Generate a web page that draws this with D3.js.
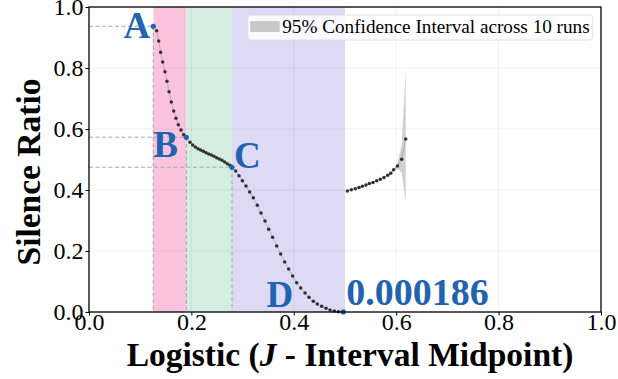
<!DOCTYPE html>
<html>
<head>
<meta charset="utf-8">
<script src="https://cdn.jsdelivr.net/npm/d3@7"></script>
<style>
  body { margin: 0; background: white; }
  svg, svg text { font-family: "Liberation Serif", "Times New Roman", serif !important; }
</style>
</head>
<body>
<div id="wrapper"></div>
<script>
// Data

// main curve, A -> B -> C -> D
const xMain = [0.1256,0.1322,0.1361,0.1400,0.1439,0.1484,0.1523,0.1563,0.1607,0.1654,0.1699,0.1744,0.1797,0.1850,0.1901,
  0.1973,0.2025,0.2076,0.2129,0.2181,0.2233,0.2285,0.2338,0.2389,0.2441,0.2494,0.2545,0.2598,0.2650,0.2701,0.2754,0.2793,
  0.2865,0.2930,0.2995,0.3066,0.3138,0.3209,0.3287,0.3359,0.3438,0.3509,0.3587,0.3666,0.3744,0.3822,0.3900,0.3978,0.4057,
  0.4135,0.4219,0.4297,0.4381,0.4459,0.4544,0.4629,0.4707,0.4791,0.4870,0.4967]
const yMain = [0.9367,0.9223,0.8885,0.8514,0.8197,0.7879,0.7564,0.7223,0.6885,0.6590,0.6351,0.6141,0.5967,0.5813,0.5728,
  0.5564,0.5475,0.5410,0.5354,0.5311,0.5269,0.5223,0.5180,0.5148,0.5105,0.5059,0.5016,0.4974,0.4918,0.4862,0.4810,0.4744,
  0.4623,0.4470,0.4305,0.4131,0.3934,0.3748,0.3498,0.3246,0.2984,0.2711,0.2448,0.2164,0.1902,0.1639,0.1410,0.1180,0.0962,
  0.0787,0.0623,0.0481,0.0350,0.0262,0.0186,0.0120,0.0066,0.0033,0.0010,0.000186]

// second piece after the gap, with its confidence band
const xTail = [0.5046,0.5124,0.5202,0.5273,0.5339,0.5410,0.5475,0.5547,0.5619,0.5690,0.5762,0.5834,0.5893,0.5950,0.6025,0.6107,0.6186]
const yTail = [0.397,0.401,0.404,0.408,0.412,0.416,0.421,0.425,0.430,0.435,0.441,0.448,0.455,0.466,0.479,0.501,0.567]
const ciLow = [0.396,0.400,0.403,0.407,0.411,0.415,0.420,0.424,0.429,0.434,0.440,0.446,0.452,0.461,0.470,0.458,0.362]
const ciHigh = [0.398,0.402,0.405,0.409,0.413,0.417,0.422,0.426,0.431,0.436,0.442,0.450,0.458,0.471,0.488,0.548,0.795]

// key points on the main curve
const keyNames = ["A", "B", "C", "D"]
const keyIndex = [0, 14, 31, 59]
const bandColors = ["#fcc3de", "#d4efe1", "#dedaf5"]
const bandEnd = 0.5

const xTicks = [0, 0.2, 0.4, 0.6, 0.8, 1.0]
const yTicks = [0, 0.2, 0.4, 0.6, 0.8, 1.0]

const minLabel = "0.000186"
const legendLabel = "95% Confidence Interval across 10 runs"

const blue = "#1f63b1"
const dotColor = "#303030"
const serif = '"Liberation Serif", "Times New Roman", serif'

let dimensions = {
  width: 618,
  height: 379,
  margin: { top: 7, right: 17, bottom: 67, left: 89 },
}
dimensions.boundedWidth = dimensions.width - dimensions.margin.left - dimensions.margin.right
dimensions.boundedHeight = dimensions.height - dimensions.margin.top - dimensions.margin.bottom

const wrapper = d3.select("#wrapper")
  .append("svg")
  .attr("width", dimensions.width)
  .attr("height", dimensions.height)

const bounds = wrapper.append("g")
  .attr("transform", `translate(${dimensions.margin.left},${dimensions.margin.top})`)

const xScale = d3.scaleLinear().domain([0, 1]).range([0, dimensions.boundedWidth])
const yScale = d3.scaleLinear().domain([0, 1]).range([dimensions.boundedHeight, 0])

const mainData = xMain.map((x, i) => ({ x, y: yMain[i] }))
const tailData = xTail.map((x, i) => ({ x, y: yTail[i], lo: ciLow[i], hi: ciHigh[i] }))
const keyPoints = keyIndex.map((k, i) => ({ name: keyNames[i], ...mainData[k] }))

// shaded regions between key points
const bandEdges = [keyPoints[0].x, keyPoints[1].x, keyPoints[2].x, bandEnd]
bounds.append("g")
  .selectAll("rect")
  .data(bandColors)
  .join("rect")
    .attr("x", (d, i) => xScale(bandEdges[i]))
    .attr("width", (d, i) => xScale(bandEdges[i + 1]) - xScale(bandEdges[i]))
    .attr("y", 0)
    .attr("height", dimensions.boundedHeight)
    .attr("fill", d => d)

// grid
const grid = bounds.append("g")
  .attr("stroke", "#000")
  .attr("stroke-opacity", 0.08)
  .attr("stroke-width", 0.8)
grid.selectAll(".gx")
  .data(xTicks.slice(1, -1))
  .join("line")
    .attr("x1", d => xScale(d)).attr("x2", d => xScale(d))
    .attr("y1", 0).attr("y2", dimensions.boundedHeight)
grid.selectAll(".gy")
  .data(yTicks.slice(1, -1))
  .join("line")
    .attr("y1", d => yScale(d)).attr("y2", d => yScale(d))
    .attr("x1", 0).attr("x2", dimensions.boundedWidth)

// dashed guides for A, B, C
const guides = bounds.append("g")
  .attr("stroke", "#a8a8a8")
  .attr("stroke-width", 1.1)
  .attr("stroke-dasharray", "4,2.5")
  .attr("fill", "none")
guides.selectAll(".h")
  .data(keyPoints.slice(0, 3))
  .join("line")
    .attr("x1", 0).attr("x2", d => xScale(d.x))
    .attr("y1", d => yScale(d.y)).attr("y2", d => yScale(d.y))
guides.selectAll(".v")
  .data(keyPoints.slice(0, 3))
  .join("line")
    .attr("x1", d => xScale(d.x)).attr("x2", d => xScale(d.x))
    .attr("y1", d => yScale(d.y)).attr("y2", dimensions.boundedHeight)

// confidence band
const area = d3.area()
  .x(d => xScale(d.x))
  .y0(d => yScale(d.lo))
  .y1(d => yScale(d.hi))
bounds.append("path")
  .datum(tailData)
  .attr("d", area)
  .attr("fill", "#c8c8c8")
  .attr("fill-opacity", 0.85)

// thin connecting lines
const line = d3.line().x(d => xScale(d.x)).y(d => yScale(d.y))
bounds.append("g")
  .selectAll("path")
  .data([mainData, tailData])
  .join("path")
    .attr("d", line)
    .attr("fill", "none")
    .attr("stroke", dotColor)
    .attr("stroke-opacity", 0.3)
    .attr("stroke-width", 0.8)

// dots
bounds.append("g")
  .attr("fill", dotColor)
  .selectAll("circle")
  .data(mainData.concat(tailData))
  .join("circle")
    .attr("cx", d => xScale(d.x))
    .attr("cy", d => yScale(d.y))
    .attr("r", 1.75)

// key point markers
bounds.append("g")
  .attr("fill", blue)
  .selectAll("circle")
  .data(keyPoints)
  .join("circle")
    .attr("cx", d => xScale(d.x))
    .attr("cy", d => yScale(d.y))
    .attr("r", 2.6)

// key point letters
const letterOffsets = {
  A: { dx: -3, dy: 12, anchor: "end" },
  B: { dx: -33, dy: 20, anchor: "start" },
  C: { dx: 2, dy: 1, anchor: "start" },
  D: { dx: -50, dy: -5, anchor: "end" },
}
bounds.append("g")
  .selectAll("text")
  .data(keyPoints)
  .join("text")
    .attr("x", d => xScale(d.x) + letterOffsets[d.name].dx)
    .attr("y", d => yScale(d.y) + letterOffsets[d.name].dy)
    .attr("text-anchor", d => letterOffsets[d.name].anchor)
    .attr("fill", blue)
    .attr("font-weight", "bold")
    .attr("font-size", 37)
    .text(d => d.name)

bounds.append("text")
  .attr("x", xScale(keyPoints[3].x) + 3)
  .attr("y", yScale(keyPoints[3].y) - 7)
  .attr("fill", blue)
  .attr("font-weight", "bold")
  .attr("font-size", 38)
  .text(minLabel)

// axes
const xAxisGenerator = d3.axisBottom(xScale)
  .tickValues(xTicks)
  .tickFormat(d3.format(".1f"))
  .tickSize(3.5)
  .tickSizeOuter(0)
const xAxis = bounds.append("g")
  .attr("transform", `translate(0,${dimensions.boundedHeight})`)
  .attr("font-family", null)
  .call(xAxisGenerator)
xAxis.attr("font-family", serif)
xAxis.select(".domain").remove()
xAxis.selectAll("text")
  .attr("y", 1)
  .attr("dy", "0.71em")
  .attr("font-size", 24)
  .style("font-family", serif)
  .attr("fill", "#000")

const yAxisGenerator = d3.axisLeft(yScale)
  .tickValues(yTicks)
  .tickFormat(d3.format(".1f"))
  .tickSize(3.5)
  .tickSizeOuter(0)
const yAxis = bounds.append("g")
  .call(yAxisGenerator)
yAxis.attr("font-family", serif)
yAxis.select(".domain").remove()
yAxis.selectAll("text")
  .attr("x", -5.5)
  .attr("font-size", 24)
  .style("font-family", serif)
  .attr("fill", "#000")

// frame
bounds.append("rect")
  .attr("width", dimensions.boundedWidth)
  .attr("height", dimensions.boundedHeight)
  .attr("fill", "none")
  .attr("stroke", "#000")
  .attr("stroke-width", 1.3)

// legend
const legend = bounds.append("g")
  .attr("transform", `translate(${xScale(0.31)},${8})`)
legend.append("rect")
  .attr("width", 345)
  .attr("height", 25)
  .attr("rx", 3)
  .attr("fill", "#fff")
  .attr("fill-opacity", 0.85)
  .attr("stroke", "#d8d8d8")
  .attr("stroke-width", 0.8)
legend.append("rect")
  .attr("x", 2.5)
  .attr("y", 6)
  .attr("width", 29.5)
  .attr("height", 11)
  .attr("fill", "#c8c8c8")
legend.append("text")
  .attr("x", 34.5)
  .attr("y", 17.5)
  .attr("font-size", 19.2)
  .text(legendLabel)

// axis labels
const xLabel = wrapper.append("text")
  .attr("x", dimensions.margin.left + dimensions.boundedWidth / 2 + 5)
  .attr("y", 366)
  .attr("text-anchor", "middle")
  .attr("font-size", 33.5)
  .attr("font-weight", "bold")
xLabel.append("tspan").text("Logistic (")
xLabel.append("tspan").attr("font-style", "italic").text("J")
xLabel.append("tspan").text(" - Interval Midpoint)")

wrapper.append("text")
  .attr("transform", `translate(40,172) rotate(-90)`)
  .attr("text-anchor", "middle")
  .attr("font-size", 33.5)
  .attr("font-weight", "bold")
  .text("Silence Ratio")
</script>
</body>
</html>
